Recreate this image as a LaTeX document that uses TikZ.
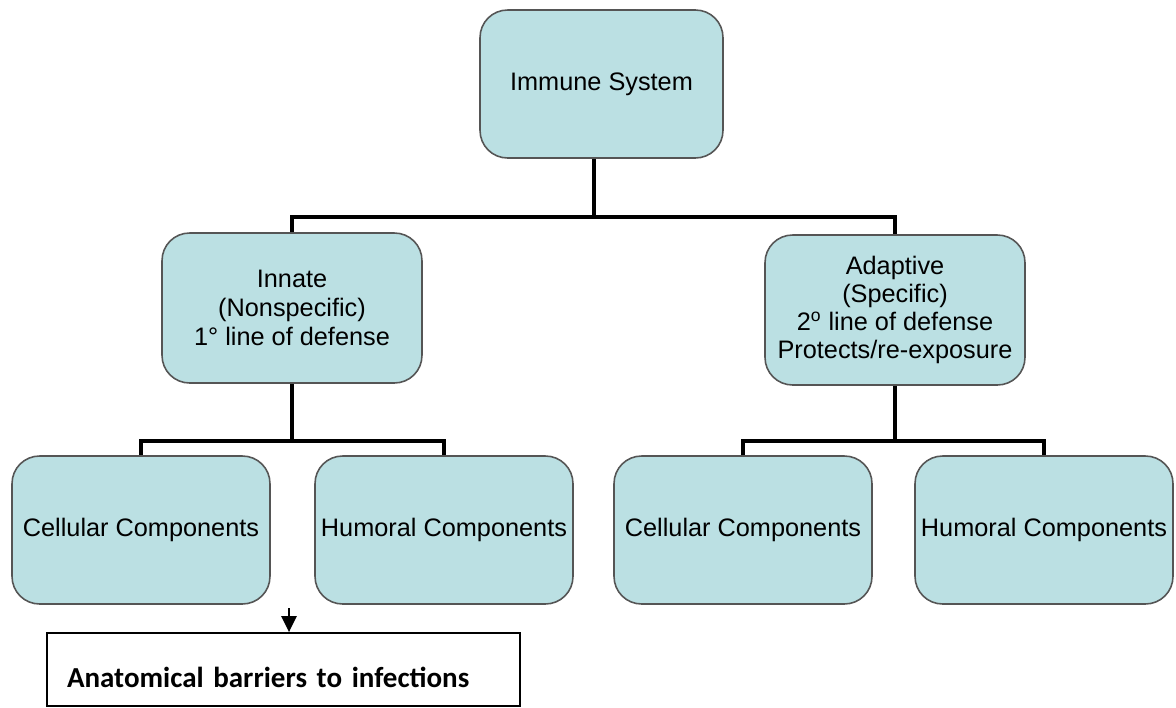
\documentclass[tikz,border=0pt]{standalone}
\usepackage{fontspec}
\setmainfont{Liberation Sans}
\newfontfamily\calibrifont{Carlito}
\usetikzlibrary{arrows.meta,positioning,calc}
\definecolor{boxfill}{HTML}{BBE0E3}
\definecolor{boxline}{HTML}{555555}

\begin{document}
\begin{tikzpicture}[x=0.02cm, y=-0.02cm,
  every node/.style={font=\fontsize{14.4}{16.5}\selectfont},
  box/.style={draw=boxline, fill=boxfill, rounded corners=0.55cm, line width=0.9pt,
    minimum width=5.2cm, minimum height=3cm, align=center, inner sep=2pt},
  leaf/.style={box, minimum width=5.16cm, minimum height=2.96cm},
  link/.style={line width=1.8pt}]
  \useasboundingbox (0,0) rectangle (1176,707);

  % Root (top)
  \node[box, minimum width=4.86cm, minimum height=2.96cm] (immune) at (601.5,84) {Immune System};

  % Second row
  \node[box] (innate) at (292,308) {Innate\\(Nonspecific)\\1° line of defense};
  \node[box, font=\fontsize{14.4}{15.9}\selectfont] (adaptive) at (895,310)
    {Adaptive\\(Specific)\\2\textsuperscript{o} line of defense\\Protects/re-exposure};
  \coordinate (topbar) at (594,217);
  \draw[link] (immune.south -| topbar) -- (topbar);
  \draw[link] (innate.north) |- (topbar) -| (adaptive.north);

  % Innate branch (bottom-left)
  \node[leaf] (icell) at (141,530) {Cellular Components};
  \node[leaf] (ihum) at (444,530) {Humoral Components};
  \coordinate (ibar) at (292,441);
  \draw[link] (innate.south) -- (ibar);
  \draw[link] (icell.north) |- (ibar) -| (ihum.north);

  % Adaptive branch (bottom-right)
  \node[leaf] (acell) at (743,530) {Cellular Components};
  \node[leaf] (ahum) at (1044,530) {Humoral Components};
  \coordinate (abar) at (895,441);
  \draw[link] (adaptive.south) -- (abar);
  \draw[link] (acell.north) |- (abar) -| (ahum.north);

  % Barriers note
  \node[draw, line width=1pt, minimum width=9.46cm, minimum height=1.46cm,
    text width=8.66cm, inner xsep=0.4cm, align=left, text height=0.72cm, text depth=0pt,
    font=\calibrifont\bfseries\fontsize{16.5}{19}\selectfont] (barrier) at (283.5,669.5)
    {Anatomical barriers to infections};
  \coordinate (barrtail) at (289,608);
  \draw[-{Triangle[length=0.32cm,width=0.3cm]}, line width=1.4pt] (barrtail) -- (barrtail |- barrier.north);

\end{tikzpicture}
\end{document}
